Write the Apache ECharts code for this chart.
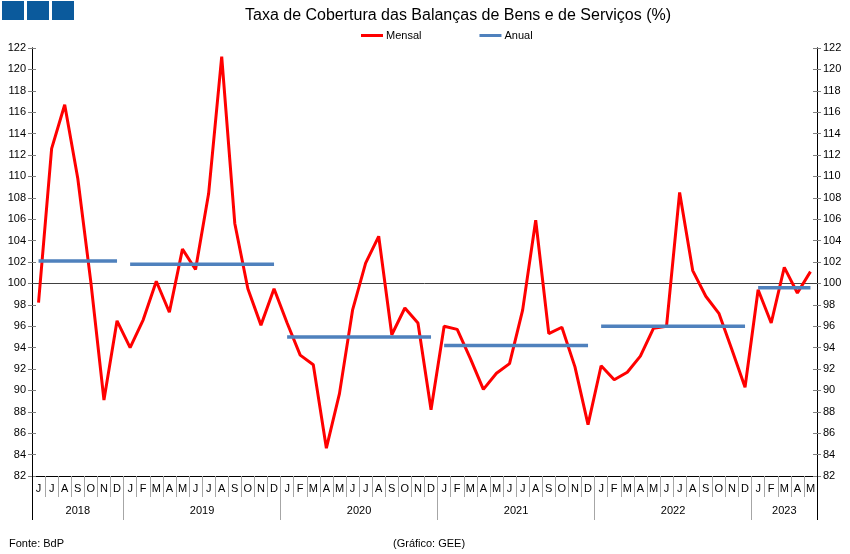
<!DOCTYPE html>
<html>
<head>
<meta charset="utf-8">
<script src="https://cdn.jsdelivr.net/npm/echarts@6/dist/echarts.min.js"></script>
<style>
  html, body { margin: 0; padding: 0; background: #fff; }
  #main { width: 850px; height: 554px; }
</style>
</head>
<body>
<div id="main"></div>
<script>
var chartDom = document.getElementById('main');
var myChart = echarts.init(chartDom);
var option;

// Months on the axis (year-month)
const months = [
    '2018-06', '2018-07', '2018-08', '2018-09', '2018-10', '2018-11', '2018-12',
    '2019-01', '2019-02', '2019-03', '2019-04', '2019-05', '2019-06', '2019-07', '2019-08', '2019-09', '2019-10', '2019-11', '2019-12',
    '2020-01', '2020-02', '2020-03', '2020-04', '2020-05', '2020-06', '2020-07', '2020-08', '2020-09', '2020-10', '2020-11', '2020-12',
    '2021-01', '2021-02', '2021-03', '2021-04', '2021-05', '2021-06', '2021-07', '2021-08', '2021-09', '2021-10', '2021-11', '2021-12',
    '2022-01', '2022-02', '2022-03', '2022-04', '2022-05', '2022-06', '2022-07', '2022-08', '2022-09', '2022-10', '2022-11', '2022-12',
    '2023-01', '2023-02', '2023-03', '2023-04', '2023-05'
];
// Month initials used as tick labels
const monthLetters = ['J', 'F', 'M', 'A', 'M', 'J', 'J', 'A', 'S', 'O', 'N', 'D'];

// Monthly coverage rate (%)
const mensal = [
    98.2, 112.6, 116.7, 109.8, 100.1, 89.1, 96.5,
    94.0, 96.6, 100.2, 97.3, 103.2, 101.3, 108.4, 121.2, 105.6, 99.5, 96.1, 99.5,
    96.3, 93.3, 92.4, 84.6, 89.7, 97.5, 101.9, 104.4, 95.2, 97.7, 96.3, 88.2,
    96.0, 95.7, 93.0, 90.1, 91.6, 92.5, 97.5, 105.9, 95.3, 95.9, 92.2, 86.8,
    92.3, 91.0, 91.7, 93.2, 95.8, 96.0, 108.5, 101.2, 98.8, 97.2, 93.8, 90.3,
    99.4, 96.3, 101.5, 99.1, 101.1
];

// Annual coverage rate (%)
const years = ['2018', '2019', '2020', '2021', '2022', '2023'];
const anual = [102.1, 101.8, 95.0, 94.2, 96.0, 99.6];

// one line series per year so the segments don't join
let series = [{
    name: 'Mensal',
    type: 'line',
    data: mensal,
    symbol: 'none',
    z: 3,
    lineStyle: { color: '#ff0000', width: 3 },
    itemStyle: { color: '#ff0000' },
    markLine: {
        silent: true,
        symbol: 'none',
        z: 1,
        label: { show: false },
        lineStyle: { color: '#404040', width: 1, type: 'solid' },
        data: [{ yAxis: 100 }]
    }
}];
years.forEach(function (yr, idx) {
    series.push({
        name: 'Anual',
        type: 'line',
        symbol: 'none',
        z: 4,
        data: months.map(function (m) { return m.slice(0, 4) === yr ? anual[idx] : null; }),
        lineStyle: { color: '#4f81bd', width: 3.5 },
        itemStyle: { color: '#4f81bd' }
    });
});

// year label positions in half-month units
let yearPos = {};
years.forEach(function (yr) {
    let first = months.findIndex(function (m) { return m.slice(0, 4) === yr; });
    let last = months.length - 1 - months.slice().reverse().findIndex(function (m) { return m.slice(0, 4) === yr; });
    yearPos[first + last + 1] = yr;
});

const font = 'Arial, "Liberation Sans", sans-serif';
const yBase = {
    type: 'value',
    min: 82,
    max: 122,
    interval: 2,
    splitLine: { show: false },
    axisLine: { show: true, lineStyle: { color: '#000', width: 1 } }
};

option = {
    animation: false,
    backgroundColor: '#fff',
    textStyle: { fontFamily: font },
    title: [{
        text: 'Taxa de Cobertura das Balanças de Bens e de Serviços (%)',
        left: 240,
        top: 3,
        textStyle: { fontSize: 16, fontWeight: 'normal', color: '#000', fontFamily: font }
    }, {
        text: 'Fonte: BdP',
        left: 4,
        top: 533,
        textStyle: { fontSize: 11, fontWeight: 'normal', color: '#000', fontFamily: font }
    }, {
        text: '(Gráfico: GEE)',
        left: 388,
        top: 533,
        textStyle: { fontSize: 11, fontWeight: 'normal', color: '#000', fontFamily: font }
    }],
    legend: {
        data: ['Mensal', 'Anual'],
        left: 356,
        top: 25,
        icon: 'rect',
        itemWidth: 22,
        itemHeight: 3,
        itemGap: 58,
        textStyle: { fontSize: 11, color: '#000', padding: [0, 0, 0, -2] }
    },
    graphic: [
        { type: 'rect', shape: { x: 2, y: 1, width: 22, height: 19 }, style: { fill: '#0b5a9c' } },
        { type: 'rect', shape: { x: 27, y: 1, width: 22, height: 19 }, style: { fill: '#0b5a9c' } },
        { type: 'rect', shape: { x: 52, y: 1, width: 22, height: 19 }, style: { fill: '#0b5a9c' } }
    ],
    grid: { left: 32, right: 33, top: 48, bottom: 78 },
    xAxis: [{
        // month letters with separators
        type: 'category',
        data: months,
        position: 'bottom',
        axisLine: { show: true, lineStyle: { color: '#000' } },
        axisTick: { show: true, interval: 0, length: 21, lineStyle: { color: '#a6a6a6' } },
        axisLabel: {
            interval: 0,
            margin: 7,
            fontSize: 11,
            color: '#000',
            formatter: function (v) { return monthLetters[parseInt(v.slice(5, 7), 10) - 1]; }
        }
    }, {
        // year separators
        type: 'category',
        data: months,
        position: 'bottom',
        axisLine: { show: false },
        axisTick: {
            show: true,
            length: 44,
            interval: function (index, value) { return value.slice(5, 7) === '01'; },
            lineStyle: { color: '#a6a6a6' }
        },
        axisLabel: { show: false }
    }, {
        // outer ends of the axis
        type: 'category',
        data: months,
        position: 'bottom',
        axisLine: { show: false },
        axisTick: {
            show: true,
            length: 44,
            interval: function (index) { return index === 0; },
            lineStyle: { color: '#000' }
        },
        axisLabel: { show: false }
    }, {
        // year labels
        type: 'value',
        min: 0,
        max: months.length * 2,
        interval: 1,
        position: 'bottom',
        axisLine: { show: false },
        axisTick: { show: false },
        splitLine: { show: false },
        axisLabel: {
            margin: 29,
            fontSize: 11,
            color: '#000',
            showMinLabel: true,
            showMaxLabel: true,
            formatter: function (v) { return yearPos[v] || ''; }
        }
    }],
    yAxis: [
        Object.assign({}, yBase, {
            position: 'left',
            axisTick: { show: true, length: 4, lineStyle: { color: '#7f7f7f' } },
            axisLabel: { margin: 6, fontSize: 11, color: '#000' }
        }),
        Object.assign({}, yBase, {
            position: 'right',
            axisTick: { show: true, length: 4, lineStyle: { color: '#7f7f7f' } },
            axisLabel: { margin: 6, fontSize: 11, color: '#000' }
        }),
        Object.assign({}, yBase, {
            position: 'left',
            axisTick: { show: true, inside: true, length: 4, lineStyle: { color: '#7f7f7f' } },
            axisLabel: { show: false }
        }),
        Object.assign({}, yBase, {
            position: 'right',
            axisTick: { show: true, inside: true, length: 4, lineStyle: { color: '#7f7f7f' } },
            axisLabel: { show: false }
        })
    ],
    series: series
};

option && myChart.setOption(option);
</script>
</body>
</html>
